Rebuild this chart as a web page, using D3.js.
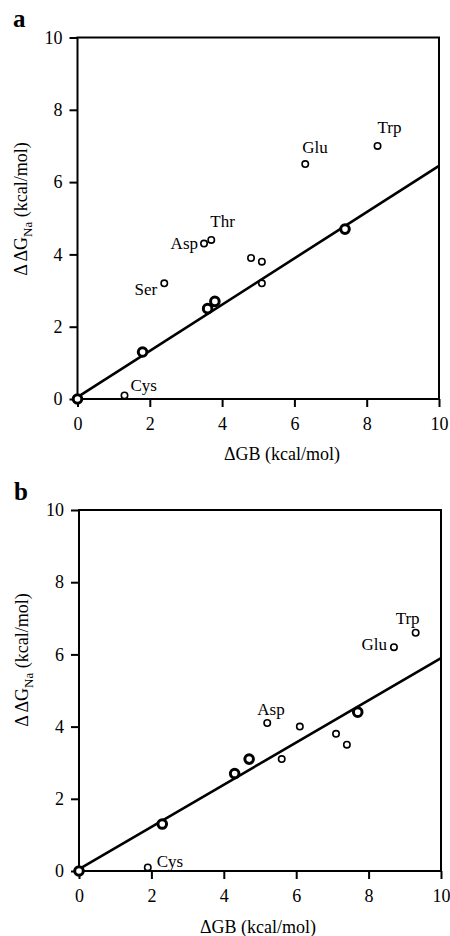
<!DOCTYPE html>
<html lang="en">
<head>
<meta charset="utf-8">
<title>ΔΔG Na vs ΔGB</title>
<style>
  body{
    margin: 0;
    padding: 0;
    background: #fff;
  }
  svg{
    display: block;
  }
  svg text{
    font-family: "Liberation Serif", "DejaVu Serif", serif;
    fill: #000;
  }
  .tick text{
    font-size: 18px;
  }
  .tick line{
    stroke: #000;
    stroke-width: 2;
  }
  .frame{
    fill: none;
    stroke: #000;
    stroke-width: 2;
  }
  .fit{
    stroke: #000;
    stroke-width: 2.6;
  }
  .pt{
    fill: #fff;
    stroke: #000;
  }
  .lab{
    font-size: 17px;
  }
  .title{
    font-size: 18px;
  }
  .panel{
    font-size: 25px;
    font-weight: bold;
  }
</style>
</head>
<body>
<svg id="chart" width="450" height="936"></svg>
<script src="https://cdnjs.cloudflare.com/ajax/libs/d3/7.8.5/d3.min.js"></script>
<script>
// tick values, both axes
var ticks = [0, 2, 4, 6, 8, 10];

// panel a
var aGB    = [0, 1.3, 1.8, 2.4, 3.6, 3.8, 3.5, 3.7, 4.8, 5.1, 5.1, 6.3, 7.4, 8.3];
var aNa    = [0, 0.1, 1.3, 3.2, 2.5, 2.7, 4.3, 4.4, 3.9, 3.8, 3.2, 6.5, 4.7, 7.0];
var aBold  = [1, 0, 1, 0, 1, 1, 0, 0, 0, 0, 0, 0, 1, 0];
var aNames = ['', 'Cys', '', 'Ser', '', '', 'Asp', 'Thr', '', '', '', 'Glu', '', 'Trp'];
var aFit   = [[0, 0.05], [10, 6.45]];

// panel b
var bGB    = [0, 1.9, 2.3, 4.3, 4.7, 5.2, 5.6, 6.1, 7.1, 7.4, 7.7, 8.7, 9.3];
var bNa    = [0, 0.1, 1.3, 2.7, 3.1, 4.1, 3.1, 4.0, 3.8, 3.5, 4.4, 6.2, 6.6];
var bBold  = [1, 0, 1, 1, 1, 0, 0, 0, 0, 0, 1, 0, 0];
var bNames = ['', 'Cys', '', '', '', 'Asp', '', '', '', '', '', 'Glu', 'Trp'];
var bFit   = [[0, 0.05], [10, 5.9]];

var svg = d3.select('#chart');

// where each name label sits relative to its point: [anchor, dx, dy]
var labPos = {
  a: {Cys: ['start', 6, -4], Ser: ['end', -7, 12], Asp: ['end', -6, 5],
      Thr: ['start', -1, -13], Glu: ['start', -3, -11], Trp: ['start', 0, -13]},
  b: {Cys: ['start', 9, 0], Asp: ['start', -10, -8],
      Glu: ['end', -7, 3], Trp: ['start', -20, -9]}
};

function plain(s) {
  // drop d3's default sans-serif/10px on the axis group and its domain path
  s.attr('font-family', null).attr('font-size', null);
  s.select('.domain').remove();
}

function drawPanel(p) {
  var x = d3.scaleLinear().domain([0, 10]).range([p.left, p.right]),
      y = d3.scaleLinear().domain([0, 10]).range([p.bottom, p.top]),
      g = svg.append('g');

  g.append('g')
    .attr('transform', 'translate(0,' + p.bottom + ')')
    .call(d3.axisBottom(x).tickValues(ticks).tickSize(8).tickPadding(10).tickSizeOuter(0))
    .call(plain);

  g.append('g')
    .attr('transform', 'translate(' + p.left + ',0)')
    .call(d3.axisLeft(y).tickValues(ticks).tickSize(8).tickPadding(7).tickSizeOuter(0))
    .call(plain);

  g.append('rect')
    .attr('class', 'frame')
    .attr('x', p.left)
    .attr('y', p.top)
    .attr('width', p.right - p.left)
    .attr('height', p.bottom - p.top);

  g.append('line')
    .attr('class', 'fit')
    .attr('x1', x(p.fit[0][0])).attr('y1', y(p.fit[0][1]))
    .attr('x2', x(p.fit[1][0])).attr('y2', y(p.fit[1][1]));

  var pts = p.gb.map(function (v, i) {
    return {gb: v, na: p.na[i], bold: p.bold[i], name: p.names[i]};
  });

  g.selectAll('circle.pt')
    .data(pts)
    .enter().append('circle')
    .attr('class', 'pt')
    .attr('cx', function (d) { return x(d.gb); })
    .attr('cy', function (d) { return y(d.na); })
    .attr('r', function (d) { return d.bold ? 4.3 : 3.2; })
    .attr('stroke-width', function (d) { return d.bold ? 3 : 1.6; });

  g.selectAll('text.lab')
    .data(pts.filter(function (d) { return d.name; }))
    .enter().append('text')
    .attr('class', 'lab')
    .attr('text-anchor', function (d) { return p.labs[d.name][0]; })
    .attr('x', function (d) { return x(d.gb) + p.labs[d.name][1]; })
    .attr('y', function (d) { return y(d.na) + p.labs[d.name][2]; })
    .text(function (d) { return d.name; });

  g.append('text')
    .attr('class', 'panel')
    .attr('x', p.tag[1]).attr('y', p.tag[2])
    .text(p.tag[0]);

  g.append('text')
    .attr('class', 'title')
    .attr('text-anchor', 'middle')
    .attr('x', p.xt[0]).attr('y', p.xt[1])
    .text('ΔGB (kcal/mol)');

  var yt = g.append('text')
    .attr('class', 'title')
    .attr('text-anchor', 'middle')
    .attr('transform', 'translate(' + p.yt[0] + ',' + p.yt[1] + ') rotate(-90)');
  yt.append('tspan').text('Δ ΔG');
  yt.append('tspan').attr('font-size', 13).attr('dy', 5).text('Na');
  yt.append('tspan').attr('dy', -5).text(' (kcal/mol)');
}

drawPanel({
  left: 77.5, right: 439, top: 37.5, bottom: 399,
  gb: aGB, na: aNa, bold: aBold, names: aNames, fit: aFit, labs: labPos.a,
  tag: ['a', 13, 27], xt: [282, 460], yt: [27, 209]
});

drawPanel({
  left: 79, right: 441, top: 510, bottom: 871,
  gb: bGB, na: bNa, bold: bBold, names: bNames, fit: bFit, labs: labPos.b,
  tag: ['b', 14, 500], xt: [258, 933], yt: [28, 660]
});
</script>
</body>
</html>
